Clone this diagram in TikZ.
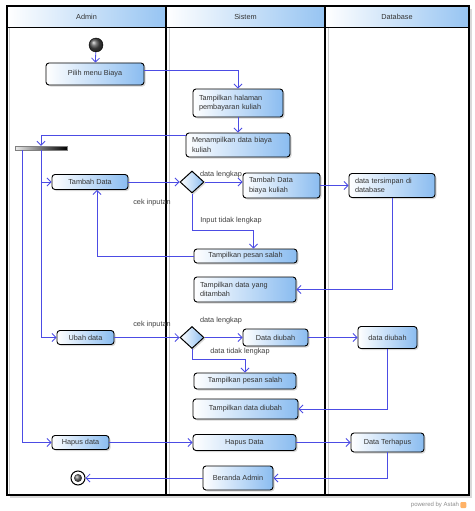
\documentclass[tikz,border=0pt]{standalone}
\usepackage{fontspec}
\setmainfont{Liberation Sans}
\usetikzlibrary{arrows.meta}
\usetikzlibrary{shadows}
\usetikzlibrary{shapes.geometric}
\usetikzlibrary{positioning}

\definecolor{hdrblue}{RGB}{150,196,242}
\definecolor{boxblue}{RGB}{138,188,240}
\definecolor{flowblue}{RGB}{76,76,228}

\begin{document}
\begin{tikzpicture}[x=1pt, y=-1pt,
    font=\fontsize{7.3}{9.3}\selectfont,
    lanehead/.style={draw, line width=1pt, left color=white, right color=hdrblue, text=black!80, minimum height=22pt, inner sep=0pt},
    act/.style={draw, line width=0.9pt, rounded corners=3pt, left color=white, right color=boxblue, text=black!80, inner sep=0pt, drop shadow={shadow xshift=1.5pt, shadow yshift=-1.5pt, fill=black!30}},
    actl/.style={act, align=left, inner xsep=6pt},
    decide/.style={diamond, draw, line width=1pt, left color=white, right color=boxblue, minimum width=24pt, minimum height=22pt, inner sep=0pt, drop shadow={shadow xshift=1.5pt, shadow yshift=-1.5pt, fill=black!30}},
    flow/.style={draw=flowblue, line width=0.8pt, -{Straight Barb[length=4pt,width=8pt]}},
    guard/.style={text=black!75, inner sep=1pt}]
    \useasboundingbox (0,0) rectangle (474,511);
    % swimlanes
    \fill[black!15] (10,9) rectangle (472,498);
    \fill[white] (7,6) rectangle (469,495);
    \draw[black!20] (9,28) -- (9,495) (169,28) -- (169,495) (328,28) -- (328,495);
    \node[lanehead, minimum width=159pt] (admin) at (86.5,17) {Admin};
    \node[lanehead, minimum width=159pt] (sistem) at (245.5,17) {Sistem};
    \node[lanehead, minimum width=144pt] (database) at (397,17) {Database};
    \draw[line width=1.2pt] (7,6) rectangle (469,495);
    \draw[line width=1.2pt] (166,6) -- (166,495) (325,6) -- (325,495);
    % nodes
    \node[circle, draw, minimum size=14pt, inner sep=0pt, ball color=black!70] (start) at (96,45) {};
    \node[act, minimum width=98pt, minimum height=22pt] (pilih) at (95,74) {Pilih menu Biaya};
    \node[actl, text width=78pt, minimum height=28pt] (halaman) at (238,103) {Tampilkan halaman\\pembayaran kuliah};
    \node[actl, text width=92pt, minimum height=24pt] (menampilkan) at (238,145) {Menampilkan data biaya\\kuliah};
    \node[draw=gray, minimum width=52pt, minimum height=4pt, inner sep=0pt, left color=gray!15, right color=black] (fork) at (41,148) {};
    \node[act, minimum width=76pt, minimum height=15pt] (tambah) at (90,182) {Tambah Data};
    \node[decide] (cek1) at (192,182) {};
    \node[actl, text width=65pt, minimum height=25pt] (tambahbiaya) at (281.5,185.5) {Tambah Data\\biaya kuliah};
    \node[actl, text width=74pt, minimum height=24pt] (tersimpan) at (392,185.5) {data tersimpan di\\database};
    \node[act, minimum width=103pt, minimum height=14pt] (pesan1) at (245.5,256) {Tampilkan pesan salah};
    \node[actl, text width=90pt, minimum height=25pt] (ditambah) at (245,289.5) {Tampilkan data yang\\ditambah};
    \node[act, minimum width=57pt, minimum height=14pt] (ubah) at (85.5,337.5) {Ubah data};
    \node[decide] (cek2) at (192,337.5) {};
    \node[act, minimum width=65pt, minimum height=17pt] (diubahS) at (275.5,337.5) {Data diubah};
    \node[act, minimum width=59pt, minimum height=22pt] (diubahD) at (387.5,337.5) {data diubah};
    \node[act, minimum width=102pt, minimum height=16pt] (pesan2) at (245,381) {Tampilkan pesan salah};
    \node[act, minimum width=105pt, minimum height=20pt] (tampdiubah) at (245.5,409) {Tampilkan data diubah};
    \node[act, minimum width=57pt, minimum height=14pt] (hapusA) at (80.5,442.5) {Hapus data};
    \node[act, minimum width=103pt, minimum height=16pt] (hapusS) at (244.5,442.5) {Hapus Data};
    \node[act, minimum width=73pt, minimum height=19pt] (terhapus) at (387.5,442.5) {Data Terhapus};
    \node[act, minimum width=70pt, minimum height=24pt] (beranda) at (238,478) {Beranda Admin};
    \node[circle, draw, line width=1pt, minimum size=14pt, inner sep=0pt, fill=white] (stop) at (78,478) {};
    \node[circle, minimum size=8pt, inner sep=0pt, ball color=black!60] (stopdot) at (stop) {};
    % guards
    \node[guard] (g1) at (152,203) {cek inputan};
    \node[guard] (g2) at (221,175) {data lengkap};
    \node[guard] (g3) at (231,221) {Input tidak lengkap};
    \node[guard] (g4) at (152,325) {cek inputan};
    \node[guard] (g5) at (221,321) {data lengkap};
    \node[guard] (g6) at (240,352) {data tidak lengkap};
    % flows
    \draw[flow] (start) -- (pilih);
    \draw[flow] ([yshift=4pt]pilih.east) -| (halaman.north);
    \draw[flow] (halaman) -- (menampilkan);
    \draw[flow] ([yshift=10pt]menampilkan.west) -| (fork.north);
    \draw[flow] (fork.south) |- (tambah.west);
    \draw[flow] (fork.south) |- (ubah.west);
    \draw[flow] ([xshift=-19pt]fork.south) |- (hapusA.west);
    \draw[flow] (tambah) -- (cek1);
    \draw[flow] (cek1) -- (cek1 -| tambahbiaya.west);
    \draw[flow] (tambahbiaya) -- (tambahbiaya -| tersimpan.west);
    \draw[flow] (cek1.south) -- (cek1.south |- 0,230) -| ([xshift=8pt]pesan1.north);
    \draw[flow] (pesan1) -| ([xshift=7pt]tambah.south);
    \draw[flow] (tersimpan) |- (ditambah);
    \draw[flow] (ubah) -- (cek2);
    \draw[flow] (cek2) -- (diubahS);
    \draw[flow] (diubahS) -- (diubahD);
    \draw[flow] (cek2.south) -- (cek2.south |- 0,359) -| (pesan2.north);
    \draw[flow] (diubahD) |- (tampdiubah);
    \draw[flow] (hapusA) -- (hapusS);
    \draw[flow] (hapusS) -- (terhapus);
    \draw[flow] (terhapus) |- (beranda);
    \draw[flow] (beranda) -- (stop);
    % footer
    \node[text=black!45, font=\fontsize{6}{7}\selectfont, inner sep=0pt] (powered) at (435,505) {powered by Astah};
    \node[fill=orange!60, rounded corners=1pt, minimum size=6pt, inner sep=0pt, right=1pt of powered] (logo) {};
\end{tikzpicture}
\end{document}
